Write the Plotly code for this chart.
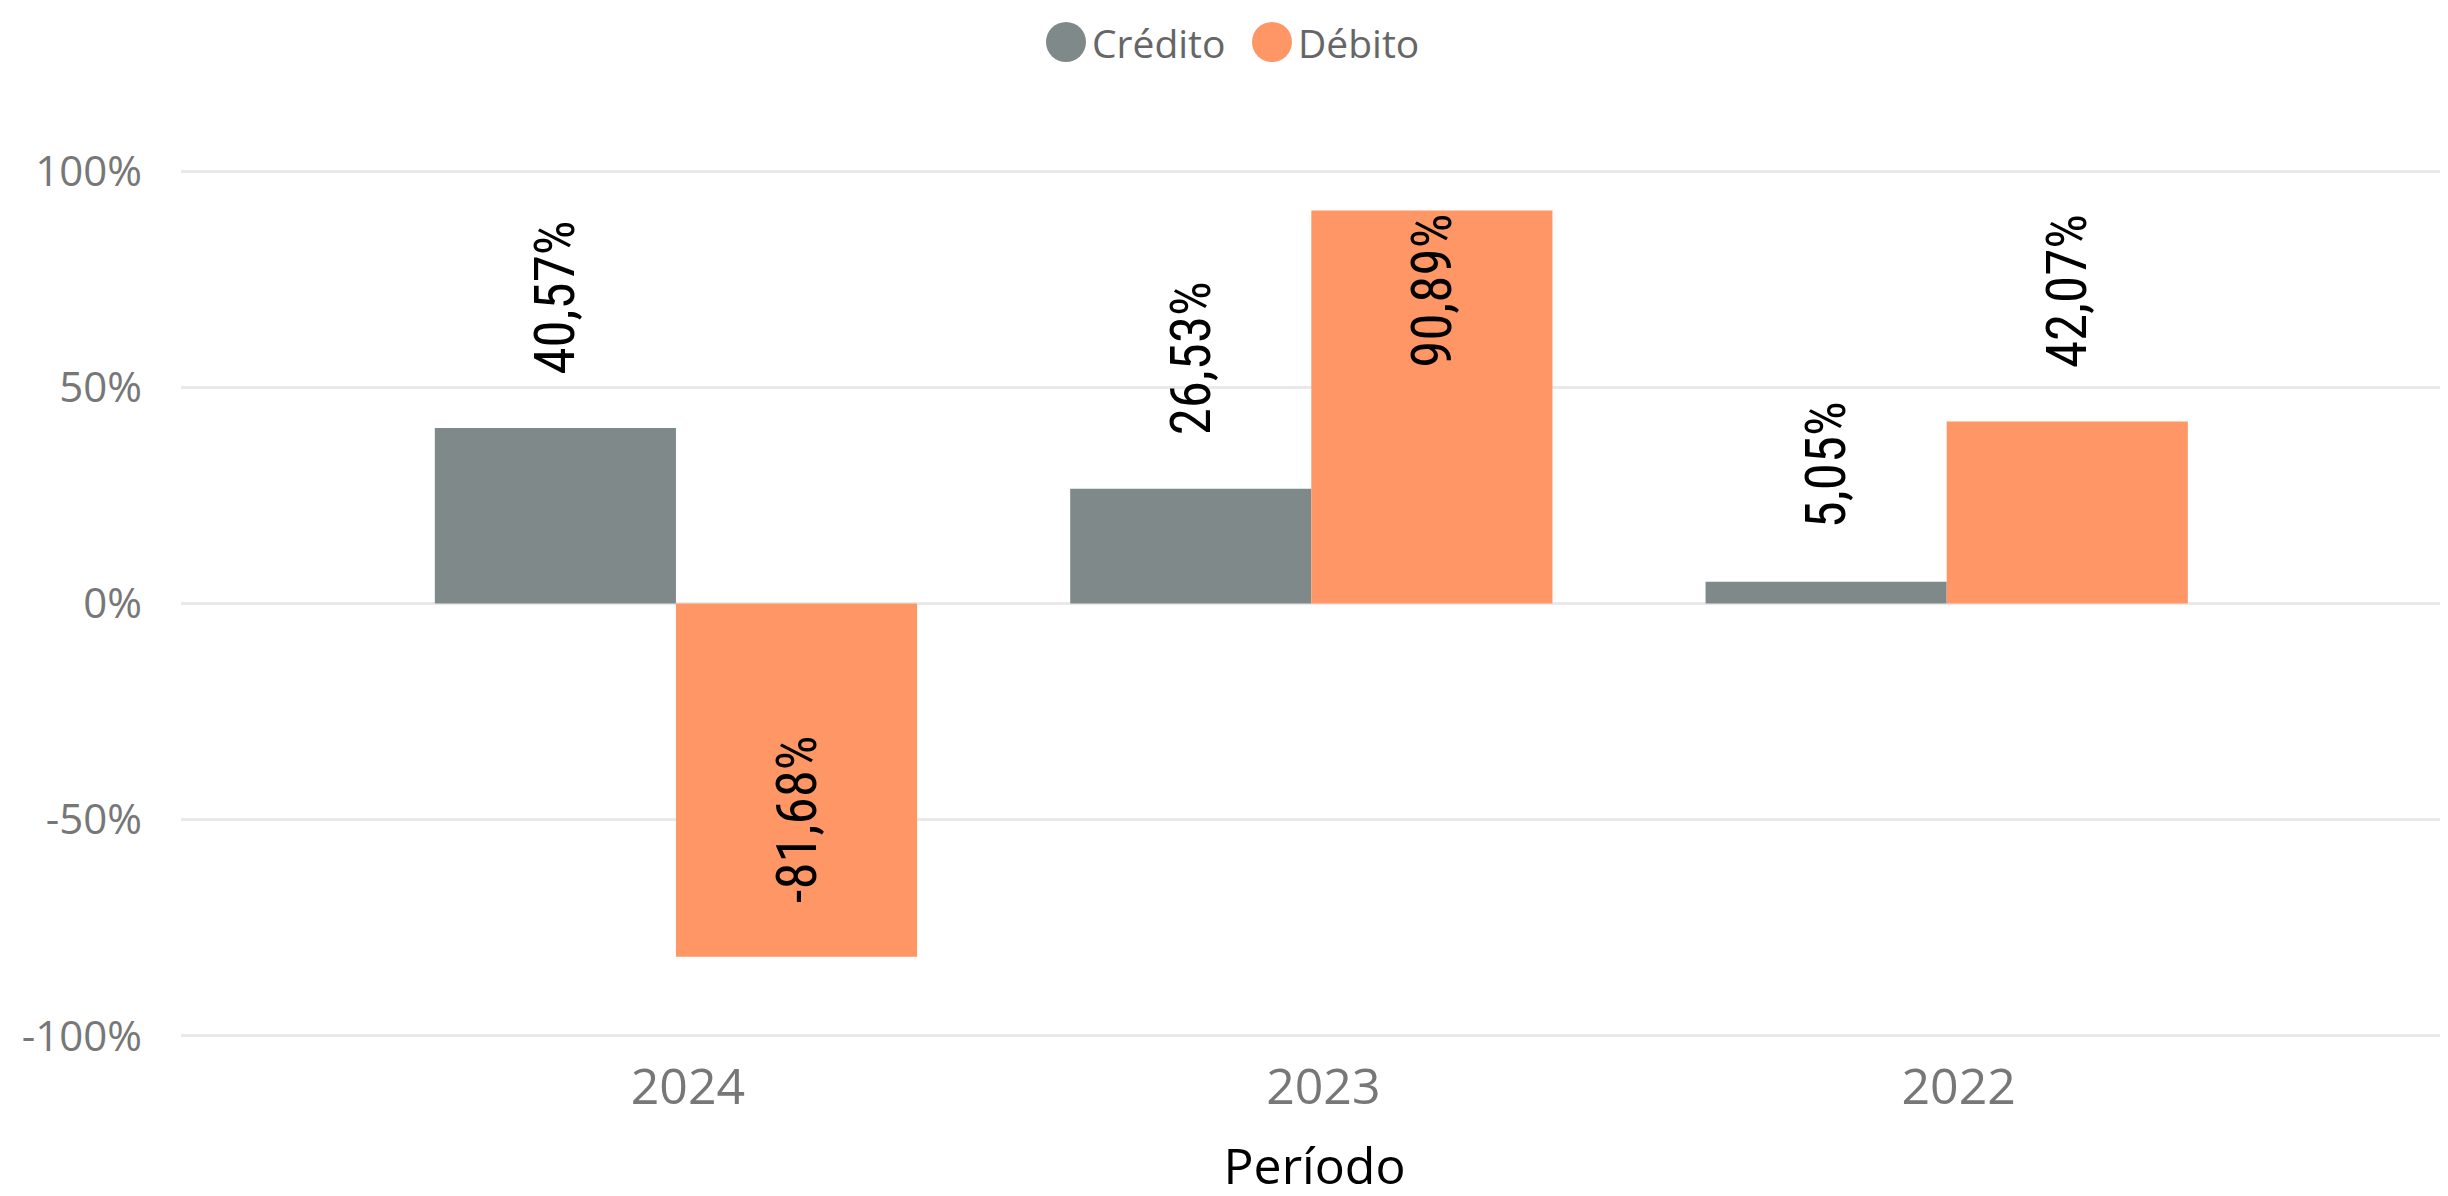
import plotly.graph_objects as go

# Datos
periodos = ["2024", "2023", "2022"]
series = ["Crédito", "Débito"]
credito = [40.57, 26.53, 5.05]
debito = [-81.68, 90.89, 42.07]
y_ticks = [-100, -50, 0, 50, 100]
y_tick_labels = ["-100%", "-50%", "0%", "50%", "100%"]

COLORS = {"Crédito": "#808989", "Débito": "#FE9666"}
AXIS_FONT = "Segoe UI, Open Sans, sans-serif"
LABEL_FONT = "Roboto Condensed, Roboto, sans-serif"

# la página html tiene 8px de margen en el body
PAGE_PAD = 8
W, H = 2448, 1196
ML, MT, MB, MR = 173, 132, 159, 8
PLOT_W = W - ML - MR
PLOT_H = H - MT - MB


def px_x(px):
    return (px - PAGE_PAD - ML) / PLOT_W


def px_y(py):
    return 1 - (py - PAGE_PAD - MT) / PLOT_H


def etiqueta(v):
    # espacios duros al inicio para separar la etiqueta de la barra
    return "\u00a0" * 4 + f"{v:.2f}".replace(".", ",") + "%"


label_font = dict(family=LABEL_FONT, size=55, color="black")

fig = go.Figure()
for name, vals in zip(series, [credito, debito]):
    fig.add_trace(go.Bar(
        x=periodos, y=vals, name=name,
        marker=dict(color=COLORS[name], line=dict(width=0)),
        text=[etiqueta(v) for v in vals],
        textposition=["inside" if abs(v) > 60 else "outside" for v in vals],
        textangle=-90, insidetextanchor="end",
        textfont=label_font, insidetextfont=label_font, outsidetextfont=label_font,
        constraintext="none", cliponaxis=False,
        showlegend=False,
    ))

# Leyenda manual con círculos grandes
legend_pos = [(1066, 1090), (1272, 1296)]
for name, (cx, tx) in zip(series, legend_pos):
    fig.add_shape(
        type="circle", xref="paper", yref="paper",
        xsizemode="pixel", ysizemode="pixel",
        xanchor=px_x(cx), yanchor=px_y(42),
        x0=-20, x1=20, y0=-20, y1=20,
        fillcolor=COLORS[name], line=dict(width=0),
    )
    fig.add_annotation(
        x=px_x(tx), y=px_y(42), xref="paper", yref="paper",
        xanchor="left", yanchor="middle", showarrow=False,
        text=name, font=dict(family=AXIS_FONT, size=39, color="#666666"),
    )

fig.update_layout(
    width=W, height=H,
    barmode="group", bargap=0.241, bargroupgap=0,
    plot_bgcolor="white", paper_bgcolor="white",
    margin=dict(l=ML, r=MR, t=MT, b=MB),
    font=dict(family=AXIS_FONT),
    showlegend=False,
)
fig.update_xaxes(
    type="category", range=[-0.779, 2.789],
    showgrid=False, zeroline=False, showline=False,
    tickfont=dict(family=AXIS_FONT, size=50, color="#777777"),
    ticklabelstandoff=8, ticklabelshift=12,
    title=dict(text="Período", font=dict(family=AXIS_FONT, size=50, color="black"), standoff=30),
)
fig.update_yaxes(
    range=[-102.1, 107.2],
    tickvals=y_ticks, ticktext=y_tick_labels,
    showgrid=True, gridcolor="#E9E9E9", gridwidth=3,
    zeroline=False, showline=False,
    tickfont=dict(family=AXIS_FONT, size=42, color="#777777"),
    ticklabelstandoff=38,
)

fig.write_html("out.html")
